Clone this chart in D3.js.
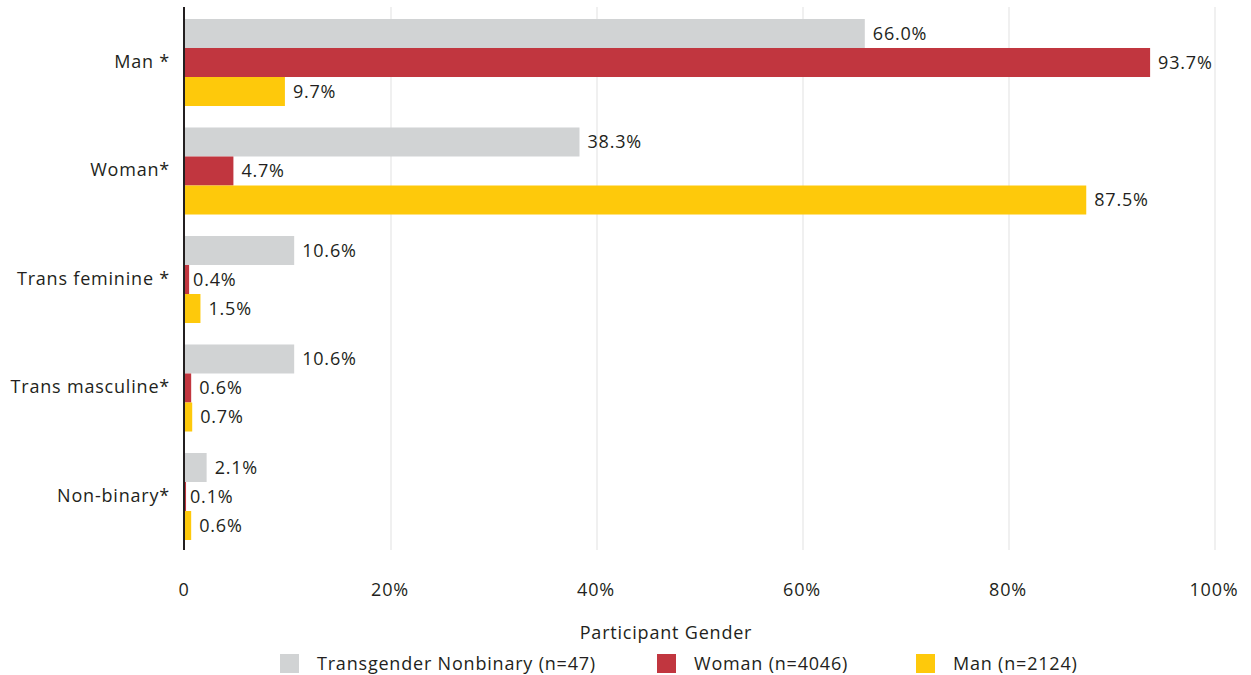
<!DOCTYPE html>
<html>
<head>
<meta charset="utf-8">
<script src="https://cdn.jsdelivr.net/npm/d3@7"></script>
<style>
  body { margin: 0; background: #fff; }
  text { font-family: "Open Sans", sans-serif; fill: #231f20; letter-spacing: 0.8px; }
</style>
</head>
<body>
<script>
var width = 1251, height = 675;

// chart data
var categories = ["Man *", "Woman*", "Trans feminine *", "Trans masculine*", "Non-binary*"];
var seriesNames = ["Transgender Nonbinary (n=47)", "Woman (n=4046)", "Man (n=2124)"];
var seriesColors = ["#d1d3d4", "#c1363f", "#fec90b"];
var transNonbinary = [66.0, 38.3, 10.6, 10.6, 2.1];
var woman = [93.7, 4.7, 0.4, 0.6, 0.1];
var man = [9.7, 87.5, 1.5, 0.7, 0.6];
var xTicks = [0, 20, 40, 60, 80, 100];
var xTitle = "Participant Gender";

var seriesValues = [transNonbinary, woman, man];

var x = d3.scaleLinear().domain([0, 100]).range([185, 1215]);
var y = d3.scaleBand().domain(categories).range([8.25, 550.75]).paddingInner(0.198).paddingOuter(0.099);
var ySub = d3.scaleBand().domain(d3.range(seriesValues.length)).range([0, y.bandwidth()]);

var svg = d3.select("body").append("svg")
  .attr("width", width)
  .attr("height", height);

// grid lines
svg.selectAll("line.grid")
  .data(xTicks.filter(function(d) { return d > 0; }))
  .enter()
  .append("line")
  .attr("class", "grid")
  .attr("x1", function(d) { return x(d); })
  .attr("x2", function(d) { return x(d); })
  .attr("y1", 7)
  .attr("y2", 550)
  .attr("stroke", "#ebebeb")
  .attr("stroke-width", 1.5);

// tick labels
svg.selectAll("text.tick")
  .data(xTicks)
  .enter()
  .append("text")
  .attr("class", "tick")
  .attr("x", function(d) { return x(d) - 1; })
  .attr("y", 596)
  .attr("text-anchor", "middle")
  .style("font-size", "18px")
  .text(function(d) { return d === 0 ? "0" : d + "%"; });

// groups
var groups = svg.selectAll("g.group")
  .data(categories)
  .enter()
  .append("g")
  .attr("class", "group")
  .attr("transform", function(d) { return "translate(0," + y(d) + ")"; });

groups.append("text")
  .attr("x", 170)
  .attr("y", y.bandwidth() / 2 - 1)
  .attr("dy", "0.35em")
  .attr("text-anchor", "end")
  .style("font-size", "18px")
  .text(function(d) { return d; });

groups.each(function(cat, ci) {
  var g = d3.select(this);
  var rows = seriesValues.map(function(vals, si) { return { s: si, v: vals[ci] }; });
  g.selectAll("rect")
    .data(rows)
    .enter()
    .append("rect")
    .attr("x", x(0) - 2)
    .attr("y", function(d) { return ySub(d.s); })
    .attr("width", function(d) { return x(d.v) - x(0) + 2; })
    .attr("height", ySub.bandwidth())
    .attr("fill", function(d) { return seriesColors[d.s]; });
  g.selectAll("text.val")
    .data(rows)
    .enter()
    .append("text")
    .attr("class", "val")
    .attr("x", function(d) { return x(d.v) + (d.v < 0.5 ? 4 : 8); })
    .attr("y", function(d) { return ySub(d.s) + ySub.bandwidth() / 2; })
    .attr("dy", "0.35em")
    .style("font-size", "18px")
    .text(function(d) { return d.v.toFixed(1) + "%"; });
});

// y axis line
svg.append("line")
  .attr("x1", 184).attr("x2", 184)
  .attr("y1", 7).attr("y2", 550)
  .attr("stroke", "#231f20")
  .attr("stroke-width", 2);

// legend
svg.append("text")
  .attr("x", 666)
  .attr("y", 639)
  .attr("text-anchor", "middle")
  .style("font-size", "18px")
  .text(xTitle);

var legendX = [280, 657, 916];
var legend = svg.selectAll("g.legend")
  .data(seriesNames)
  .enter()
  .append("g")
  .attr("class", "legend")
  .attr("transform", function(d, i) { return "translate(" + legendX[i] + ",654)"; });

legend.append("rect")
  .attr("width", 19)
  .attr("height", 19)
  .attr("fill", function(d, i) { return seriesColors[i]; });

legend.append("text")
  .attr("x", 37)
  .attr("y", 10)
  .attr("dy", "0.35em")
  .style("font-size", "18px")
  .text(function(d) { return d; });
</script>
</body>
</html>
